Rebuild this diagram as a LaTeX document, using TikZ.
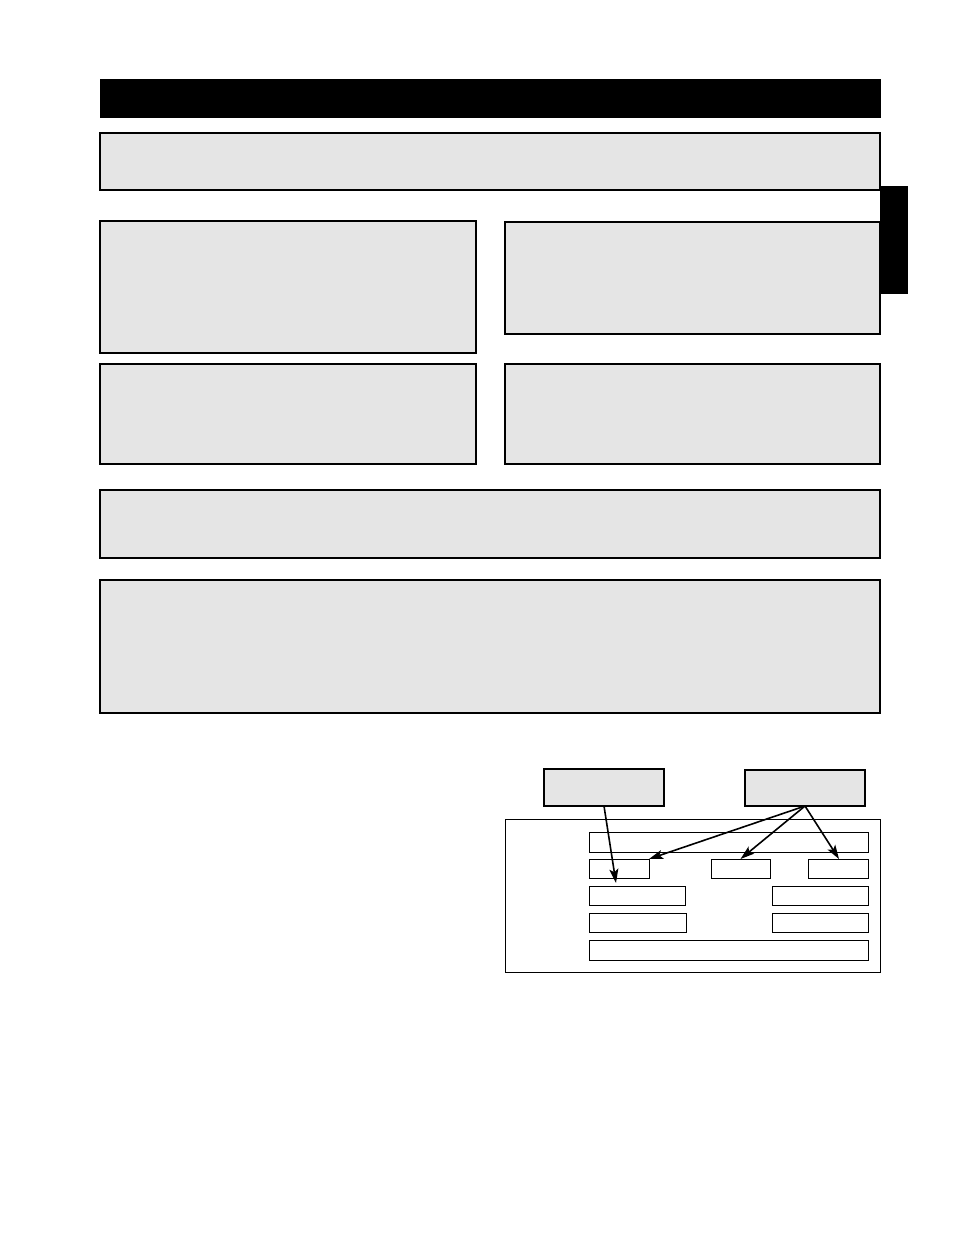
\documentclass[tikz,border=0pt]{standalone}
\usetikzlibrary{arrows.meta}
\tikzset{
  panel/.style={draw, line width=2.5pt, fill=black!10, inner sep=0pt, outer sep=0pt},
  tag/.style={draw, line width=1.8pt, fill=black!10, inner sep=0pt, outer sep=0pt},
  slot/.style={draw, line width=0.9pt, fill=white, inner sep=0pt, outer sep=0pt},
  link/.style={-{Stealth[length=14pt,width=9pt,inset=3pt]}, line width=1.6pt},
}
\begin{document}
\begin{tikzpicture}[x=1pt,y=-1pt]
  \useasboundingbox (0,0) rectangle (954,1235);

  % Bandeau et onglet
  \node[fill=black, inner sep=0pt, minimum width=781pt, minimum height=39pt] (head) at (490.5,98.5) {};
  \node[fill=black, inner sep=0pt, minimum width=28pt, minimum height=108pt] (tab) at (894,240) {};

  % Panneaux gris
  \node[panel, minimum width=780pt, minimum height=57pt] (intro) at (490,161.5) {};
  \node[panel, minimum width=376pt, minimum height=132pt] (upleft) at (288,287) {};
  \node[panel, minimum width=375pt, minimum height=112pt] (upright) at (692.5,278) {};
  \node[panel, minimum width=376pt, minimum height=100pt] (lowleft) at (288,414) {};
  \node[panel, minimum width=375pt, minimum height=100pt] (lowright) at (692.5,414) {};
  \node[panel, minimum width=780pt, minimum height=68pt] (band) at (490,524) {};
  \node[panel, minimum width=780pt, minimum height=133pt] (notes) at (490,646.5) {};

  % Schéma de l'étiquette
  \node[tag, minimum width=120pt, minimum height=37pt] (srcA) at (604,787.5) {};
  \node[tag, minimum width=120pt, minimum height=36pt] (srcB) at (805,788) {};
  \node[draw, line width=0.9pt, inner sep=0pt, minimum width=375pt, minimum height=153pt] (frame) at (692.5,895.5) {};

  \node[slot, minimum width=279pt, minimum height=20pt] (l1) at (728.5,842) {};
  \node[slot, minimum width=60pt, minimum height=19pt] (l2a) at (619,868.5) {};
  \node[slot, minimum width=59pt, minimum height=19pt] (l2b) at (740.5,868.5) {};
  \node[slot, minimum width=60pt, minimum height=19pt] (l2c) at (838,868.5) {};
  \node[slot, minimum width=96pt, minimum height=19pt] (l3a) at (637,895.5) {};
  \node[slot, minimum width=96pt, minimum height=19pt] (l3b) at (820,895.5) {};
  \node[slot, minimum width=97pt, minimum height=19pt] (l4a) at (637.5,922.5) {};
  \node[slot, minimum width=96pt, minimum height=19pt] (l4b) at (820,922.5) {};
  \node[slot, minimum width=279pt, minimum height=20pt] (l5) at (728.5,950) {};

  % Flèches
  \draw[link] (srcA.south) -- ([xshift=27pt,yshift=3pt]l3a.north west);
  \draw[link] (srcB.south) -- (l2a.north east);
  \draw[link] (srcB.south) -- (l2b.north);
  \draw[link] (srcB.south) -- ([xshift=1pt]l2c.north);
\end{tikzpicture}
\end{document}
